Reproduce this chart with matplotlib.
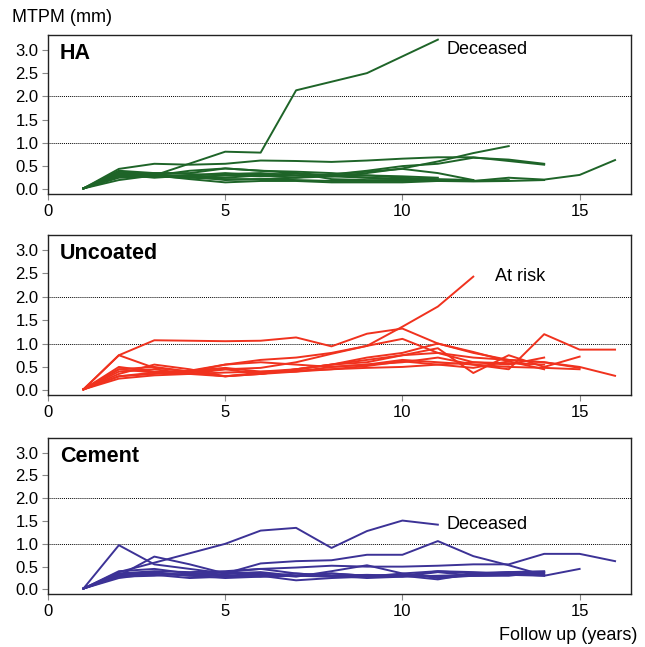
import numpy as np
from matplotlib import pyplot as plt

plt.rcParams['font.family'] = ['Liberation Sans', 'DejaVu Sans']

# follow-up years and MTPM (mm) per patient
ha_years = [
    [1, 2, 3, 5, 6, 7, 9, 11],
    list(range(1, 14)),
    list(range(1, 15)),
    list(range(1, 17)),
    list(range(1, 13)),
    list(range(1, 13)),
    list(range(1, 15)),
    list(range(1, 13)),
    list(range(1, 12)),
    list(range(1, 14)),
    list(range(1, 15)),
    list(range(1, 12)),
]
ha_mtpm = [
    [0.02, 0.33, 0.30, 0.81, 0.79, 2.13, 2.50, 3.22],
    [0.02, 0.35, 0.28, 0.25, 0.30, 0.32, 0.30, 0.28, 0.35, 0.45, 0.60, 0.78, 0.93],
    [0.02, 0.44, 0.55, 0.53, 0.55, 0.62, 0.61, 0.59, 0.62, 0.66, 0.69, 0.69, 0.61, 0.53],
    [0.02, 0.30, 0.28, 0.25, 0.22, 0.22, 0.20, 0.18, 0.18, 0.18, 0.18, 0.18, 0.25, 0.21, 0.31, 0.63],
    [0.02, 0.25, 0.28, 0.30, 0.33, 0.35, 0.30, 0.32, 0.38, 0.44, 0.35, 0.20],
    [0.02, 0.40, 0.35, 0.35, 0.45, 0.40, 0.35, 0.30, 0.25, 0.22, 0.20, 0.18],
    [0.02, 0.28, 0.30, 0.22, 0.15, 0.18, 0.18, 0.15, 0.15, 0.15, 0.18, 0.17, 0.18, 0.20],
    [0.02, 0.32, 0.25, 0.30, 0.35, 0.30, 0.25, 0.28, 0.30, 0.25, 0.22, 0.20],
    [0.02, 0.35, 0.30, 0.40, 0.45, 0.40, 0.38, 0.35, 0.30, 0.28, 0.25],
    [0.02, 0.20, 0.30, 0.28, 0.25, 0.30, 0.35, 0.22, 0.20, 0.20, 0.19, 0.18, 0.20],
    [0.02, 0.38, 0.32, 0.28, 0.20, 0.22, 0.25, 0.32, 0.40, 0.50, 0.55, 0.68, 0.64, 0.55],
    [0.02, 0.30, 0.35, 0.33, 0.30, 0.28, 0.30, 0.28, 0.25, 0.22, 0.20],
]

unc_years = [
    list(range(1, 13)),
    list(range(1, 15)),
    list(range(1, 16)),
    list(range(1, 15)),
    list(range(1, 17)),
    list(range(1, 17)),
    list(range(1, 16)),
    list(range(1, 15)),
    list(range(1, 16)),
    list(range(1, 14)),
]
unc_mtpm = [
    [0.02, 0.30, 0.38, 0.35, 0.45, 0.48, 0.60, 0.78, 0.95, 1.36, 1.79, 2.43],
    [0.02, 0.75, 1.07, 1.06, 1.05, 1.06, 1.13, 0.94, 1.21, 1.32, 1.00, 0.82, 0.62, 0.45],
    [0.02, 0.75, 0.48, 0.40, 0.45, 0.35, 0.45, 0.55, 0.65, 0.75, 0.80, 0.70, 0.65, 0.60, 0.48],
    [0.02, 0.45, 0.38, 0.42, 0.55, 0.65, 0.70, 0.80, 0.95, 1.10, 0.80, 0.60, 0.55, 0.70],
    [0.02, 0.40, 0.45, 0.35, 0.30, 0.35, 0.40, 0.50, 0.55, 0.60, 0.70, 0.55, 0.45, 1.20, 0.87, 0.87],
    [0.02, 0.30, 0.35, 0.42, 0.48, 0.40, 0.45, 0.55, 0.70, 0.80, 1.00, 0.80, 0.65, 0.60, 0.50, 0.31],
    [0.02, 0.50, 0.40, 0.38, 0.30, 0.35, 0.45, 0.55, 0.60, 0.75, 0.90, 0.37, 0.75, 0.50, 0.72],
    [0.02, 0.25, 0.32, 0.35, 0.38, 0.40, 0.42, 0.45, 0.48, 0.50, 0.55, 0.60, 0.58, 0.55],
    [0.02, 0.45, 0.50, 0.40, 0.55, 0.60, 0.55, 0.50, 0.55, 0.65, 0.60, 0.55, 0.50, 0.48, 0.45],
    [0.02, 0.35, 0.55, 0.45, 0.30, 0.38, 0.40, 0.45, 0.52, 0.62, 0.55, 0.48, 0.62],
]

cem_years = [
    [1, 2, 5, 6, 7, 8, 9, 10, 11],
    list(range(1, 15)),
    list(range(1, 15)),
    list(range(1, 17)),
    list(range(1, 16)),
    list(range(1, 15)),
    list(range(1, 15)),
    list(range(1, 15)),
    list(range(1, 15)),
    list(range(1, 15)),
]
cem_mtpm = [
    [0.02, 0.38, 1.00, 1.29, 1.35, 0.91, 1.28, 1.51, 1.42],
    [0.02, 0.97, 0.55, 0.45, 0.35, 0.38, 0.30, 0.35, 0.30, 0.28, 0.30, 0.32, 0.35, 0.30],
    [0.02, 0.30, 0.72, 0.55, 0.35, 0.57, 0.62, 0.64, 0.76, 0.76, 1.06, 0.73, 0.53, 0.31],
    [0.02, 0.35, 0.40, 0.38, 0.40, 0.45, 0.48, 0.52, 0.50, 0.50, 0.52, 0.55, 0.55, 0.78, 0.78, 0.62],
    [0.02, 0.30, 0.35, 0.30, 0.25, 0.28, 0.30, 0.35, 0.30, 0.32, 0.28, 0.30, 0.32, 0.30, 0.45],
    [0.02, 0.25, 0.35, 0.32, 0.30, 0.35, 0.28, 0.40, 0.53, 0.35, 0.40, 0.38, 0.35, 0.38],
    [0.02, 0.32, 0.38, 0.30, 0.38, 0.45, 0.35, 0.30, 0.32, 0.30, 0.40, 0.35, 0.38, 0.33],
    [0.02, 0.35, 0.32, 0.25, 0.28, 0.30, 0.20, 0.25, 0.28, 0.35, 0.25, 0.30, 0.32, 0.35],
    [0.02, 0.40, 0.45, 0.35, 0.32, 0.28, 0.35, 0.30, 0.25, 0.28, 0.38, 0.30, 0.30, 0.38],
    [0.02, 0.28, 0.30, 0.35, 0.38, 0.32, 0.30, 0.28, 0.30, 0.30, 0.22, 0.35, 0.38, 0.40],
]

panels = [
    ("HA", ha_years, ha_mtpm, "#1e6428", "Deceased", 11.25, 3.01),
    ("Uncoated", unc_years, unc_mtpm, "#f0321e", "At risk", 12.6, 2.44),
    ("Cement", cem_years, cem_mtpm, "#3c3296", "Deceased", 11.25, 1.43),
]

W, H = 645, 647
fig = plt.figure(figsize=(W / 100, H / 100), dpi=100)
# top/bottom pixel rows of each panel
rows = [(35, 194), (235, 395), (438, 594)]
left, right = 48, 631

for (name, yrs, vals, color, note, nx, ny), (top, bot) in zip(panels, rows):
    ax = fig.add_axes([left / W, 1 - bot / H, (right - left) / W, (bot - top) / H])
    for x, y in zip(yrs, vals):
        ax.plot(x, y, color=color, lw=1.4)
    for g in (1.0, 2.0):
        ax.axhline(g, color="black", lw=0.7, ls=(0, (1, 1)), zorder=0)
    ax.set_xlim(0, 16.45)
    ax.set_ylim(-0.1, 3.32)
    ax.set_xticks([0, 5, 10, 15])
    ax.set_yticks(np.arange(0, 3.01, 0.5))
    ax.set_yticklabels([f"{v:.1f}" for v in np.arange(0, 3.01, 0.5)])
    ax.tick_params(axis="both", direction="out", length=4, width=0.8,
                   color="#888888", labelsize=12, pad=3)
    for s in ax.spines.values():
        s.set_linewidth(1.0)
        s.set_color("#222222")
    ax.text(0.02, 0.95, name, transform=ax.transAxes, ha="left", va="top",
            fontsize=15.5, fontweight="bold")
    ax.text(nx, ny, note, ha="left", va="center", fontsize=13)

fig.text(12 / W, 1 - 18 / H, "MTPM (mm)", ha="left", va="center", fontsize=13)
fig.text(637 / W, 1 - 636 / H, "Follow up (years)", ha="right", va="center", fontsize=13)

plt.savefig("out.png", dpi=100)
